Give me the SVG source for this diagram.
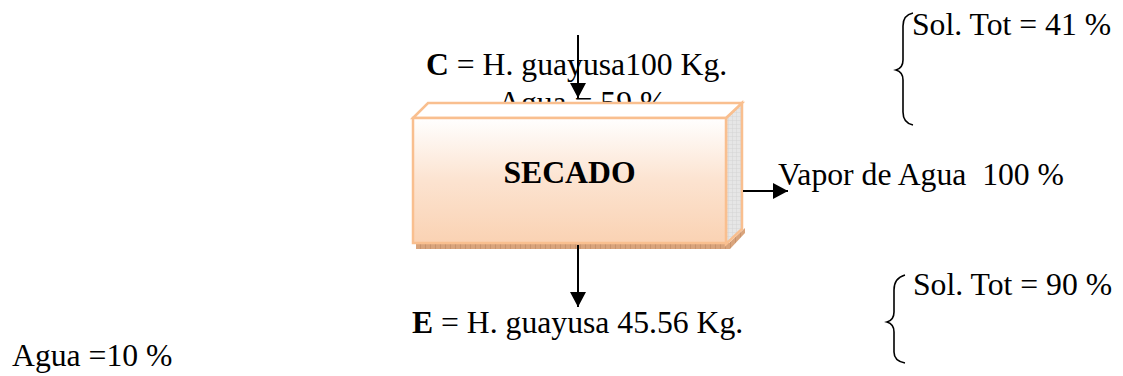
<svg xmlns="http://www.w3.org/2000/svg" width="1123" height="376" viewBox="0 0 1123 376">
<style>
.t{font-family:"Liberation Serif","Times New Roman",serif;font-size:31.7px;fill:#000;white-space:pre}
.b{font-weight:bold}
.ln{stroke:#000;stroke-width:2;fill:none}
.br{stroke:#000;stroke-width:1.6;fill:none}
.edge{stroke:#F9BF8F;stroke-width:2.5;stroke-linejoin:miter}
</style>
<defs>
<linearGradient id="front" x1="0" y1="0" x2="0" y2="1">
<stop offset="0" stop-color="#FFFFFF"/>
<stop offset="0.5" stop-color="#FCE3D0"/>
<stop offset="1" stop-color="#FAD2B3"/>
</linearGradient>
<pattern id="grayTex" width="4" height="4" patternUnits="userSpaceOnUse">
<rect width="4" height="4" fill="#E6E6E6"/>
<path d="M0 0H4M0 0V4" stroke="#CFCFCF" stroke-width="0.8"/>
</pattern>
<pattern id="tanTex" width="5" height="4" patternUnits="userSpaceOnUse">
<rect width="5" height="4" fill="#D9A47C"/>
<path d="M0 0V4" stroke="#B98560" stroke-width="1"/>
</pattern>
<marker id="ah" viewBox="0 0 10 10" refX="10" refY="5" markerWidth="15" markerHeight="16" preserveAspectRatio="none" markerUnits="userSpaceOnUse" orient="auto">
<path d="M0 0L10 5L0 10z" fill="#000"/>
</marker>
</defs>

<g id="labels">
<text class="t" x="426" y="75" xml:space="preserve"><tspan class="b">C</tspan> = H. guayusa100 Kg.</text>
<text class="t" x="498" y="113" xml:space="preserve">Agua = 59 %</text>
<text class="t" x="778" y="185" xml:space="preserve">Vapor de Agua  100 %</text>
<text class="t" x="412" y="333" xml:space="preserve"><tspan class="b">E</tspan> = H. guayusa 45.56 Kg.</text>
<text class="t" x="12" y="366" xml:space="preserve">Agua =10 %</text>
<text class="t" x="912" y="35" xml:space="preserve">Sol. Tot = 41 %</text>
<text class="t" x="913" y="295" xml:space="preserve">Sol. Tot = 90 %</text>
</g>

<g id="secado">
<polygon points="416,243 729,243 745,228 745,233 730,249 416,249" fill="url(#tanTex)"/>
<polygon points="726,118 742,103 742,229 726,244" fill="url(#grayTex)" class="edge" stroke-width="1.5"/>
<polygon points="413,118 428,103 742,103 726,118" fill="#FFFFFF" class="edge"/>
<rect x="413" y="118" width="313" height="125" fill="url(#front)" class="edge"/>
<text class="t b" x="569.5" y="183" text-anchor="middle">SECADO</text>
</g>

<g id="connectors">
<line class="ln" x1="578" y1="35" x2="578" y2="98" marker-end="url(#ah)"/>
<line class="ln" x1="743" y1="191" x2="788" y2="191" marker-end="url(#ah)"/>
<line class="ln" x1="578" y1="245" x2="578" y2="307" marker-end="url(#ah)"/>
</g>

<g id="braces">
<path class="br" d="M913 13Q903 15 903 26V60Q903 68 896 70Q903 72 903 80V112Q903 123 913 125"/>
<path class="br" d="M905 275Q894 278 894 290V312Q894 320 887 322Q894 324 894 332V352Q894 361 905 363"/>
</g>
</svg>
